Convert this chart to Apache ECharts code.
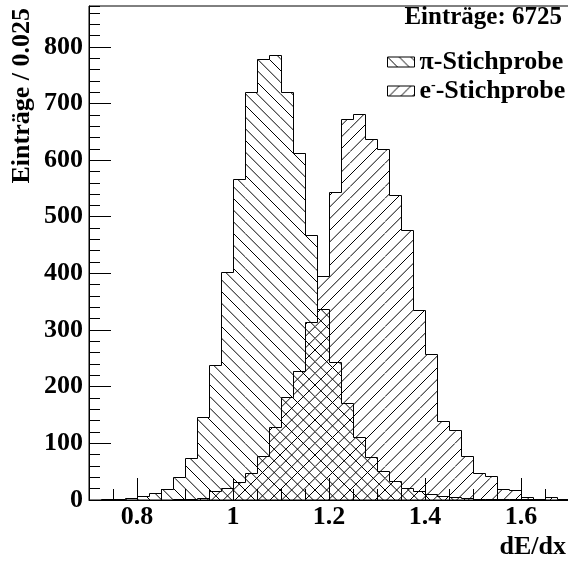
<!DOCTYPE html>
<html><head><meta charset="utf-8">
<script src="https://cdn.jsdelivr.net/npm/echarts@6/dist/echarts.min.js"></script>
<style>html,body{margin:0;padding:0;background:#fff}#c{width:568px;height:565px}</style>
</head><body><div id="c"></div>
<script>
// ---- data ----
const binLow = [0.700,0.725,0.750,0.775,0.800,0.825,0.850,0.875,0.900,0.925,
                0.950,0.975,1.000,1.025,1.050,1.075,1.100,1.125,1.150,1.175,
                1.200,1.225,1.250,1.275,1.300,1.325,1.350,1.375,1.400,1.425,
                1.450,1.475,1.500,1.525,1.550,1.575,1.600,1.625,1.650,1.675];
const binWidth = 0.025;
const piCounts = [0,2,1,3,7,12,20,40,75,147,
                  238,403,566,720,778,786,720,612,468,338,
                  244,171,112,76,52,34,21,16,10,7,
                  5,3,2,2,1,1,1,0,0,0];
const eCounts  = [0,0,0,0,0,0,0,1,2,4,
                  16,21,32,47,78,128,181,228,315,396,
                  544,672,682,637,619,539,476,336,257,140,
                  123,78,47,43,19,18,5,2,6,1];
const xMajorTicks = [0.8, 1.0, 1.2, 1.4, 1.6];
const piName = 'π-Stichprobe';
const eName = 'e-Stichprobe';
const statsText = 'Einträge: 6725';
const yTitle = 'Einträge / 0.025';
const xTitle = 'dE/dx';

const FONT = 'Liberation Serif';

function hatch(dir) {
  const T = 35, n = 3, c = document.createElement('canvas');
  c.width = T; c.height = T;
  const ctx = c.getContext('2d');
  ctx.strokeStyle = '#000'; ctx.lineWidth = 1;
  ctx.beginPath();
  for (let k = -n; k <= n; k++) {
    const o = k * T / n;
    if (dir > 0) { ctx.moveTo(0, o); ctx.lineTo(T, T + o); }
    else { ctx.moveTo(0, T + o); ctx.lineTo(T, o); }
  }
  ctx.stroke();
  return { image: c, repeat: 'repeat' };
}
const piPattern = hatch(1);
const ePattern = hatch(-1);

function histRenderer(counts, pattern) {
  return function (params, api) {
    if (params.dataIndex !== 0) return null;
    const snap = p => [Math.round(p[0]) + 0.5, Math.round(p[1]) + 0.5];
    const n = counts.length;
    const pts = [snap(api.coord([binLow[0], 0]))];
    for (let i = 0; i < n; i++) {
      pts.push(snap(api.coord([binLow[i], counts[i]])));
      pts.push(snap(api.coord([binLow[i] + binWidth, counts[i]])));
    }
    pts.push(snap(api.coord([binLow[n - 1] + binWidth, 0])));
    return { type: 'polygon', shape: { points: pts },
      style: { fill: pattern, stroke: '#000', lineWidth: 1 } };
  };
}

const chart = echarts.init(document.getElementById('c'), null, { renderer: 'canvas' });
const labelStyle = { fontFamily: FONT, fontWeight: 'bold', fontSize: 26, color: '#000' };
chart.setOption({
  animation: false,
  backgroundColor: '#fff',
  grid: { left: 89, top: 6, width: 480, height: 494, containLabel: false, outerBoundsMode: 'none',
          show: true, borderColor: '#000', borderWidth: 1, backgroundColor: 'transparent' },
  title: { text: statsText, right: 6, top: 5, padding: 0,
           textStyle: { fontFamily: FONT, fontWeight: 'bold', fontSize: 25, color: '#000' } },
  legend: {
    orient: 'vertical', left: 387, top: 49, padding: 0, itemGap: 3,
    itemWidth: 27, itemHeight: 10, icon: 'rect',
    data: [
      { name: piName, itemStyle: { color: piPattern, borderColor: '#000', borderWidth: 1 } },
      { name: eName, itemStyle: { color: ePattern, borderColor: '#000', borderWidth: 1 } }
    ],
    formatter: function (name) {
      if (name === eName) return '{n|e}{s|-}{n|-Stichprobe}';
      return '{n|' + name + '}';
    },
    textStyle: { fontFamily: FONT, fontWeight: 'bold', fontSize: 26, color: '#000',
      rich: { n: { fontFamily: FONT, fontWeight: 'bold', fontSize: 26, color: '#000' },
              s: { fontFamily: FONT, fontWeight: 'bold', fontSize: 14, color: '#000', verticalAlign: 'top' } } },
    selectedMode: false
  },
  xAxis: [
    { type: 'value', min: 0.7, max: 1.7, position: 'bottom',
      axisLine: { show: true, onZero: false, lineStyle: { color: '#000', width: 1 } },
      axisTick: { show: true, inside: true, length: 22, customValues: xMajorTicks, lineStyle: { color: '#000' } },
      axisLabel: { show: true, margin: 4, customValues: xMajorTicks, ...labelStyle },
      splitLine: { show: false } },
    { type: 'value', min: 0.7, max: 1.7, interval: 0.05, position: 'bottom',
      axisLine: { show: false, onZero: false },
      axisTick: { show: true, inside: true, length: 11, lineStyle: { color: '#000' } },
      axisLabel: { show: false }, splitLine: { show: false } }
  ],
  yAxis: [
    { type: 'value', min: 0, max: 872, interval: 100, position: 'left',
      axisLine: { show: true, onZero: false, lineStyle: { color: '#000', width: 1 } },
      axisTick: { show: true, inside: true, length: 22, lineStyle: { color: '#000' } },
      axisLabel: { show: true, margin: 6, showMaxLabel: false, ...labelStyle },
      splitLine: { show: false } },
    { type: 'value', min: 0, max: 872, interval: 20, position: 'left',
      axisLine: { show: false, onZero: false },
      axisTick: { show: true, inside: true, length: 11, lineStyle: { color: '#000' } },
      axisLabel: { show: false }, splitLine: { show: false } }
  ],
  graphic: [
    { type: 'text', x: 22, y: 8, rotation: Math.PI / 2,
      style: { text: yTitle, fontFamily: FONT, fontWeight: 'bold', fontSize: 26, fill: '#000',
               align: 'right', verticalAlign: 'middle' } },
    { type: 'text', x: 566, y: 547,
      style: { text: xTitle, fontFamily: FONT, fontWeight: 'bold', fontSize: 26, fill: '#000',
               align: 'right', verticalAlign: 'middle' } }
  ],
  series: [
    { name: piName, type: 'custom', xAxisIndex: 0, yAxisIndex: 0, silent: true,
      itemStyle: { color: piPattern, borderColor: '#000' },
      renderItem: histRenderer(piCounts, piPattern),
      data: binLow.map((x, i) => [x + binWidth / 2, piCounts[i]]) },
    { name: eName, type: 'custom', xAxisIndex: 0, yAxisIndex: 0, silent: true,
      itemStyle: { color: ePattern, borderColor: '#000' },
      renderItem: histRenderer(eCounts, ePattern),
      data: binLow.map((x, i) => [x + binWidth / 2, eCounts[i]]) }
  ]
});
</script>
</body></html>
